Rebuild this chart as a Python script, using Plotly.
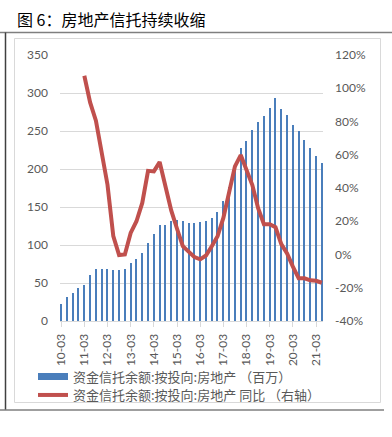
import plotly.graph_objects as go

# ---------------- data ----------------
quarters = [f"{y % 100:02d}-{m:02d}" for y in range(2010, 2022) for m in (3, 6, 9, 12)][:46]
tick_labels = ["10-03", "11-03", "12-03", "13-03", "14-03", "15-03",
               "16-03", "17-03", "18-03", "19-03", "20-03", "21-03"]

balance = [23, 31, 37, 43, 48, 60, 68, 68, 68, 67, 67, 68,
           76, 81, 89, 103, 115, 126, 126, 131, 133, 132, 129, 129,
           130, 131, 135, 143, 158, 176, 198, 228, 237, 251, 262, 270,
           280, 293, 279, 271, 258, 250, 238, 228, 217, 208]

yoy = [None, None, None, None,
       107.5, 91.5, 80.5, 61, 42, 11, -0.3, 0, 13, 20, 31, 50.3,
       50, 55.6, 41.3, 26.5, 15.5, 5, 1.7, -1.5, -2.9, -0.6, 5, 11,
       22, 38, 53, 59.8, 50.8, 41.8, 27.8, 18.2, 18.2, 16.4, 6.3, 0.7,
       -7.3, -14.3, -14.3, -15.5, -15.8, -17]

left_ticks = [0, 50, 100, 150, 200, 250, 300, 350]
right_ticks = [-40, -20, 0, 20, 40, 60, 80, 100, 120]
right_tick_text = [f"{v}%" for v in right_ticks]

name_bar = "资金信托余额:按投向:房地产 （百万）"
name_line = "资金信托余额:按投向:房地产 同比 （右轴）"
title = "图 6：房地产信托持续收缩"

# ---------------- layout geometry ----------------
W, H = 392, 437
L, R, T, B = 60, 69, 55, 116
PW, PH = W - L - R, H - T - B


def px(x):
    return (x - L) / PW


def py(y):
    return (H - B - y) / PH


BLUE = "#4A7EBB"
RED = "#C0504D"
GRAY_TXT = "#595959"
GRID = "#D9D9D9"
TICKFONT = dict(family="Lato, Liberation Sans, sans-serif", size=12, color=GRAY_TXT)
CJK = "Noto Sans CJK SC"
LEGFONT = dict(family=CJK, size=13, color=GRAY_TXT)

fig = go.Figure()
fig.add_trace(go.Bar(x=quarters, y=balance, marker=dict(color=BLUE, line=dict(width=0)),
                     width=0.2, name=name_bar, showlegend=False))
# legend entry for bars (wide bar swatch as in the original)
fig.add_trace(go.Scatter(x=[None], y=[None], mode="lines", line=dict(color=BLUE, width=7),
                         name=name_bar, showlegend=True, legend="legend"))
fig.add_trace(go.Scatter(x=quarters, y=yoy, mode="lines", yaxis="y2",
                         line=dict(color=RED, width=4), name=name_line,
                         connectgaps=False, legend="legend2"))

shapes = [
    # outer frame lines
    dict(type="line", xref="paper", yref="paper", x0=px(0), x1=px(392), y0=py(32.5), y1=py(32.5),
         line=dict(color="#7F7F7F", width=1.5)),
    dict(type="line", xref="paper", yref="paper", x0=px(5.5), x1=px(5.5), y0=py(32.5), y1=py(410),
         line=dict(color="#404040", width=1.5)),
    dict(type="line", xref="paper", yref="paper", x0=px(0), x1=px(384), y0=py(410), y1=py(410),
         line=dict(color="#7F7F7F", width=1.5)),
    # chart area border
    dict(type="rect", xref="paper", yref="paper", x0=px(14.5), x1=px(380.5), y0=py(38.5), y1=py(402.5),
         line=dict(color=GRID, width=1), layer="below"),
]

leg_common = dict(xanchor="left", yanchor="middle", font=LEGFONT, itemwidth=30,
                  bgcolor="rgba(0,0,0,0)", borderwidth=0)

fig.update_layout(
    width=W, height=H,
    margin=dict(l=L, r=R, t=T, b=B, autoexpand=False),
    paper_bgcolor="white", plot_bgcolor="white",
    bargap=0,
    shapes=shapes,
    annotations=[dict(text=title, xref="paper", yref="paper", x=px(15), y=py(19),
                      xanchor="left", yanchor="middle", showarrow=False,
                      font=dict(family=CJK, size=16, color="#000000"))],
    xaxis=dict(type="category", range=[-0.2, 45.2], tickmode="array",
               tickvals=tick_labels, ticktext=tick_labels, tickangle=-90,
               ticks="outside", ticklen=5, tickcolor=GRID, showline=True, linecolor=GRID,
               showgrid=False, tickfont=TICKFONT, ticklabelstandoff=2),
    yaxis=dict(range=[0, 350], tickvals=left_ticks, showgrid=True, gridcolor=GRID,
               gridwidth=1, zeroline=False, showline=False, ticks="",
               tickfont=TICKFONT, ticklabelstandoff=11),
    yaxis2=dict(range=[-40, 120], tickmode="array", tickvals=right_ticks,
                ticktext=right_tick_text, overlaying="y",
                side="right", showgrid=False, zeroline=False, showline=False, ticks="",
                tickfont=TICKFONT, ticklabelstandoff=11),
    legend=dict(x=px(33), y=py(376.5), **leg_common),
    legend2=dict(x=px(33), y=py(395), **leg_common),
    showlegend=True,
)

fig.write_html("out.html", config={"displayModeBar": False},
               post_script="document.body.style.margin='0';")
